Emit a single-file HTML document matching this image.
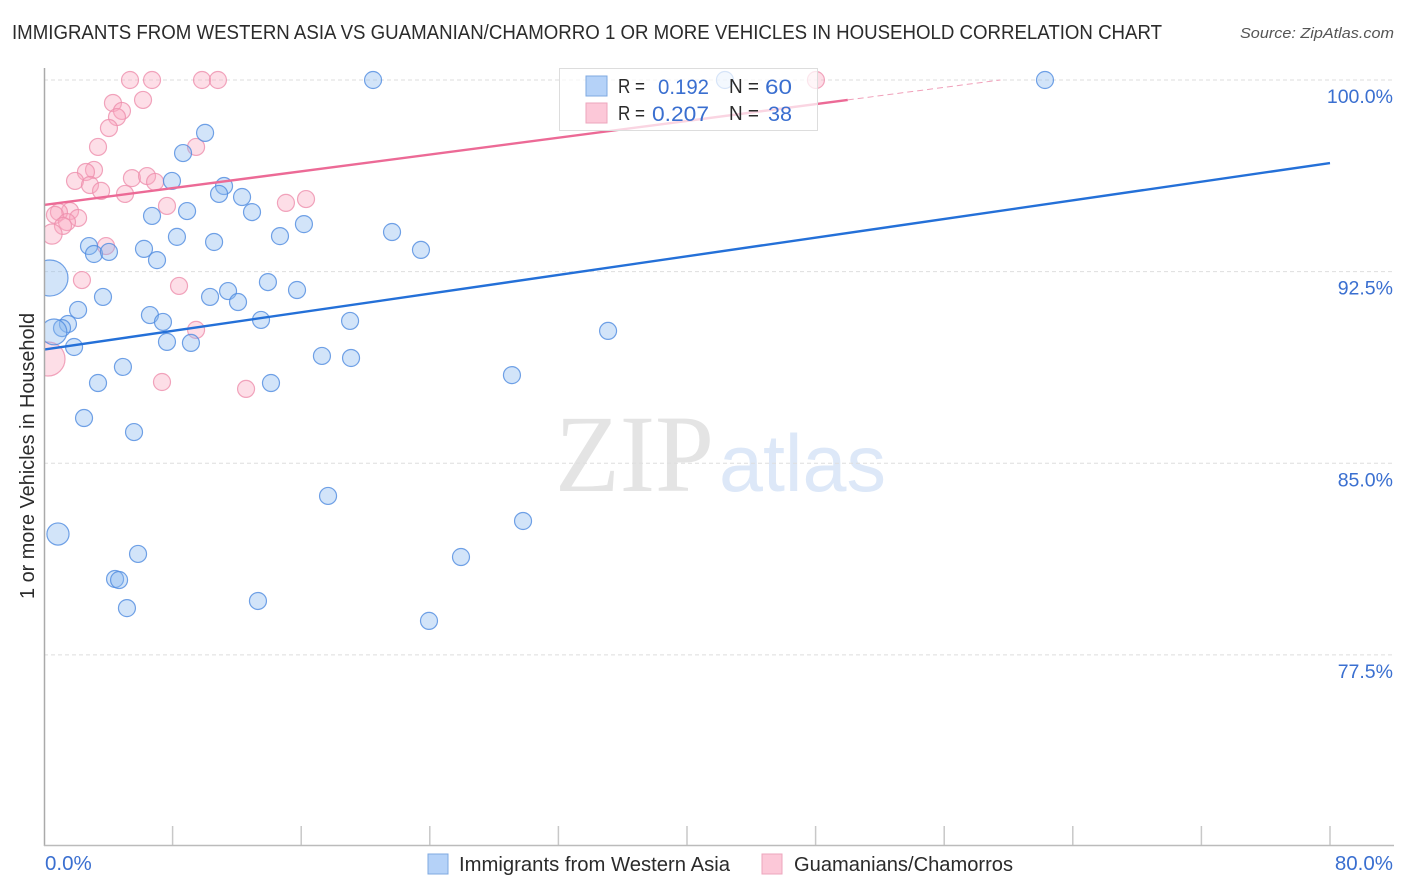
<!DOCTYPE html>
<html lang="en">
<head>
<meta charset="utf-8">
<title>Correlation Chart</title>
<style>
html,body{margin:0;padding:0;background:#fff;width:1406px;height:892px;overflow:hidden}
svg{display:block;font-family:"Liberation Sans",sans-serif}
</style>
</head>
<body>
<svg id="chart" width="1406" height="892" viewBox="0 0 1406 892" xmlns="http://www.w3.org/2000/svg">
  <defs><clipPath id="plot-clip"><rect x="45" y="60" width="1349" height="785"/></clipPath></defs>
  <rect x="0" y="0" width="1406" height="892" fill="#fff"/>
  <text x="12" y="39" font-size="20" fill="#2b2b2b" textLength="1150" lengthAdjust="spacingAndGlyphs">IMMIGRANTS FROM WESTERN ASIA VS GUAMANIAN/CHAMORRO 1 OR MORE VEHICLES IN HOUSEHOLD CORRELATION CHART</text>
  <text x="1394" y="38" font-size="15" font-style="italic" fill="#555" text-anchor="end" textLength="154" lengthAdjust="spacingAndGlyphs">Source: ZipAtlas.com</text>
  <text x="555" y="491" font-family="'Liberation Serif',serif" font-size="110" fill="#e4e4e4" textLength="159" lengthAdjust="spacingAndGlyphs">ZIP</text>
  <text x="719" y="491" font-size="81" fill="#dde8f8" textLength="167" lengthAdjust="spacingAndGlyphs">atlas</text>
  <g id="grid"></g>
  <g id="marks" clip-path="url(#plot-clip)"></g>
  <g id="trends"></g>
  <g id="axes"></g>
  <text transform="translate(34,456) rotate(-90)" font-size="20" fill="#2b2b2b" text-anchor="middle" textLength="286" lengthAdjust="spacingAndGlyphs">1 or more Vehicles in Household</text>

  <g>
    <rect x="559.5" y="68.5" width="258" height="62" fill="#fff" fill-opacity="0.72" stroke="#ddd" stroke-width="1"/>
    <rect x="586" y="76" width="21" height="20" fill="#b5d2f8" stroke="#7fa9e0" stroke-width="1"/>
    <rect x="586" y="103" width="21" height="20" fill="#fcc8d8" stroke="#eda6bd" stroke-width="1"/>
    <text x="618" y="93" font-size="20" fill="#2b2b2b" textLength="27" lengthAdjust="spacingAndGlyphs">R =</text>
    <text x="658" y="94" font-size="21" fill="#3a6fd0" textLength="51" lengthAdjust="spacingAndGlyphs">0.192</text>
    <text x="729" y="93" font-size="20" fill="#2b2b2b" textLength="30" lengthAdjust="spacingAndGlyphs">N =</text>
    <text x="765" y="94" font-size="21" fill="#3a6fd0" textLength="27" lengthAdjust="spacingAndGlyphs">60</text>
    <text x="618" y="120" font-size="20" fill="#2b2b2b" textLength="27" lengthAdjust="spacingAndGlyphs">R =</text>
    <text x="652" y="121" font-size="21" fill="#3a6fd0" textLength="57" lengthAdjust="spacingAndGlyphs">0.207</text>
    <text x="729" y="120" font-size="20" fill="#2b2b2b" textLength="30" lengthAdjust="spacingAndGlyphs">N =</text>
    <text x="768" y="121" font-size="21" fill="#3a6fd0" textLength="24" lengthAdjust="spacingAndGlyphs">38</text>
  </g>

  <g>
    <rect x="428" y="854" width="20" height="20" fill="#b5d2f8" stroke="#7fa9e0" stroke-width="1"/>
    <text x="459" y="871" font-size="20" fill="#2b2b2b" textLength="271" lengthAdjust="spacingAndGlyphs">Immigrants from Western Asia</text>
    <rect x="762" y="854" width="20" height="20" fill="#fcc8d8" stroke="#eda6bd" stroke-width="1"/>
    <text x="794" y="871" font-size="20" fill="#2b2b2b" textLength="219" lengthAdjust="spacingAndGlyphs">Guamanians/Chamorros</text>
  </g>
</svg>
<script>
// ---- chart data (x = percent immigrants, y = percent with vehicles) ----
const blueX = [20.47,42.36,62.27,10.02,8.65,7.96,11.20,10.89,12.32,8.90,6.72,12.94,16.17,14.68,8.27,10.58,21.65,23.45,2.80,3.11,4.04,6.22,7.03,0.37,13.93,15.74,11.45,10.33,12.07,3.67,2.12,6.59,7.40,13.50,19.04,1.49,1.12,0.62,35.09,1.87,7.65,9.14,17.29,19.10,4.91,29.11,3.36,14.12,2.49,5.60,17.67,29.80,0.87,5.85,25.94,4.42,4.67,5.16,13.31,23.95];
const blueY = [100,100,100,97.93,97.14,96.05,95.85,95.54,95.42,94.87,94.68,94.83,94.36,93.89,93.86,93.66,94.05,93.35,93.50,93.19,93.27,93.39,92.95,92.25,92.09,91.78,91.74,91.51,91.31,91.51,91.00,90.80,90.53,90.61,90.57,90.45,90.29,90.14,90.18,89.55,89.75,89.71,89.20,89.12,88.77,88.45,88.14,88.14,86.77,86.22,83.72,82.74,82.23,81.45,81.33,80.47,80.43,79.33,79.61,78.83];
const blueWeight = [1,1,1,1,1,1,1,1,1,1,1,1,1,1,1,1,1,1,1,1,1,1,1,4.5,1,1,1,1,1,1,1,1,1,1,1,1,1,2.3,1,1,1,1,1,1,1,1,1,1,1,1,1,1,1.7,1,1,1,1,1,1,1];
const pinkX = [5.35,6.72,9.83,10.82,48.02,4.29,6.16,4.85,4.54,4.04,3.36,9.46,3.11,2.61,1.93,2.86,5.47,6.41,6.91,3.55,5.04,16.30,15.05,7.65,1.62,0.93,0.68,2.12,1.43,1.18,0.50,3.86,2.36,8.40,9.46,7.34,12.57,0.25];
const pinkY = [100,100,100,100,100,99.10,99.22,98.79,98.55,98.12,97.38,97.38,96.48,96.40,96.05,95.89,96.16,96.24,96.01,95.66,95.54,95.34,95.19,95.07,94.87,94.83,94.72,94.60,94.44,94.29,93.97,93.50,92.17,91.94,90.22,88.18,87.91,89.08];
const pinkWeight = [1,1,1,1,1,1,1,1,1,1,1,1,1,1,1,1,1,1,1,1,1,1,1,1,1,1,1,1,1,1,1.4,1,1,1,1,1,1,4];
const blueTrendX = [0,80];
const blueTrendY = [89.45,96.75];
const pinkTrendX = [0,50];
const pinkTrendY = [95.11,99.22];
const pinkTrendDashX = [50,59.5];
const pinkTrendDashY = [99.22,100];
const yTickValues = [100,92.5,85,77.5];
const yTickLabels = ["100.0%","92.5%","85.0%","77.5%"];
const xTickValues = [0,8,16,24,32,40,48,56,64,72,80];
const xEndLabels = ["0.0%","80.0%"];

// ---- axis functions ----
const xScale = v => 44 + v * 16.075;
const yScale = v => 80 + (100 - v) * 25.55;
const baseRadius = 8.5;
const NS = "http://www.w3.org/2000/svg";
function make(tag, attrs, parent) {
  const el = document.createElementNS(NS, tag);
  for (const k in attrs) el.setAttribute(k, attrs[k]);
  parent.appendChild(el);
  return el;
}
const grid = document.getElementById("grid");
const marks = document.getElementById("marks");
const trends = document.getElementById("trends");
const axes = document.getElementById("axes");

yTickValues.forEach((v, i) => {
  const line = make("line", {x1:44, x2:1394, y1:yScale(v), y2:yScale(v), stroke:"#dedede", "stroke-width":1, "stroke-dasharray":"4 3"}, grid);
  
  
  const label = make("text", {x:1393, y:yScale(v) + 23, "font-size":19.5, fill:"#3a6fd0", "text-anchor":"end"}, axes);
  label.textContent = yTickLabels[i];
  
  
});

function drawSeries(xs, ys, ws, fill, stroke, name) {
  xs.forEach((x, i) => {
    const c = make("circle", {cx:xScale(x), cy:yScale(ys[i]), r:baseRadius * Math.sqrt(ws[i]), fill:fill, "fill-opacity":0.38, stroke:stroke, "stroke-opacity":0.8, "stroke-width":1.2}, marks);
    
    
  });
}
drawSeries(pinkX, pinkY, pinkWeight, "#f9a8c0", "#ee8fad", "point-guamanians");
drawSeries(blueX, blueY, blueWeight, "#8ab8f0", "#4f8be0", "point-western-asia");

const blueLine = make("line", {x1:xScale(blueTrendX[0]), y1:yScale(blueTrendY[0]), x2:xScale(blueTrendX[1]), y2:yScale(blueTrendY[1]), stroke:"#2470d8", "stroke-width":2.4}, trends);


const pinkLine = make("line", {x1:xScale(pinkTrendX[0]), y1:yScale(pinkTrendY[0]), x2:xScale(pinkTrendX[1]), y2:yScale(pinkTrendY[1]), stroke:"#ec6a96", "stroke-width":2.4}, trends);


const pinkDash = make("line", {x1:xScale(pinkTrendDashX[0]), y1:yScale(pinkTrendDashY[0]), x2:xScale(pinkTrendDashX[1]), y2:yScale(pinkTrendDashY[1]), stroke:"#f0a0ba", "stroke-width":1, "stroke-dasharray":"6 4"}, trends);



xTickValues.slice(1).forEach(v => {
  const t = make("line", {x1:xScale(v), x2:xScale(v), y1:826, y2:845, stroke:"#c8c8c8", "stroke-width":1.5}, axes);
  
  
});
const yAxis = make("line", {x1:44.5, x2:44.5, y1:68, y2:846, stroke:"#aaa", "stroke-width":1.5}, axes);


const xAxis = make("line", {x1:44, x2:1394, y1:845.5, y2:845.5, stroke:"#bbb", "stroke-width":1.5}, axes);



const xStart = make("text", {x:45, y:870, "font-size":20.5, fill:"#3a6fd0"}, axes);
xStart.textContent = xEndLabels[0];


const xEnd = make("text", {x:1393, y:870, "font-size":20.5, fill:"#3a6fd0", "text-anchor":"end"}, axes);
xEnd.textContent = xEndLabels[1];


</script>
</body>
</html>
